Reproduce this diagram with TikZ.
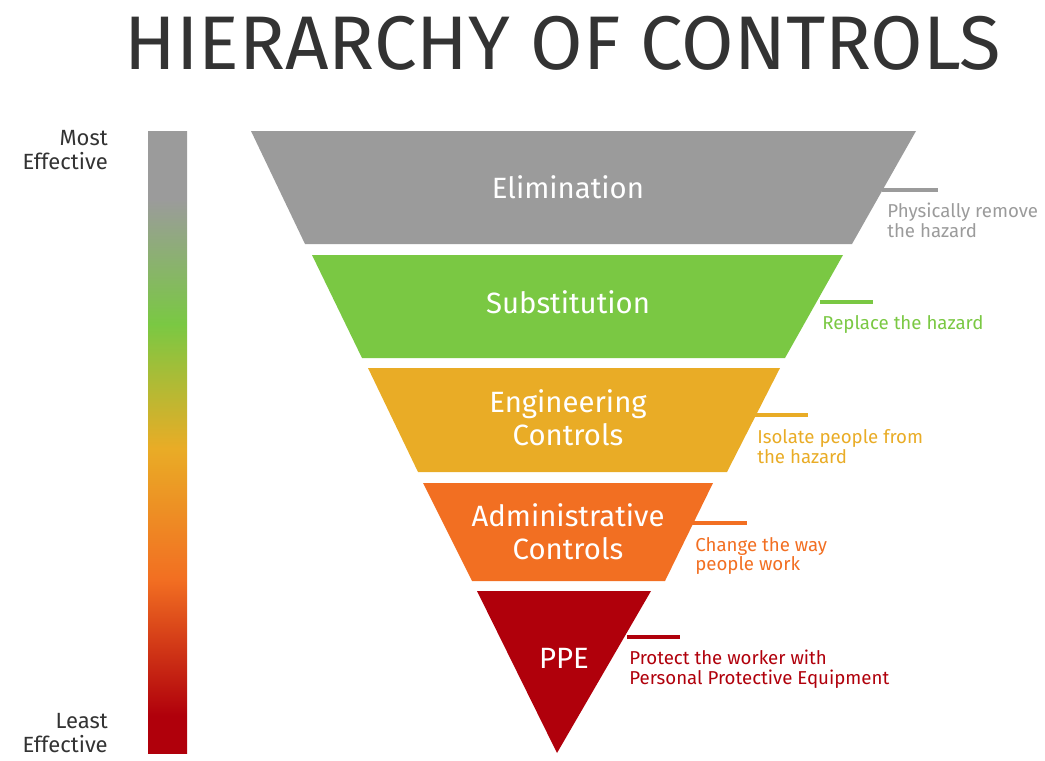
\documentclass[tikz,border=0pt]{standalone}
\usepackage{fontspec}
\setmainfont{Fira Sans}
\usetikzlibrary{positioning}
\definecolor{elim}{RGB}{155,155,155}
\definecolor{subst}{RGB}{122,200,67}
\definecolor{engin}{RGB}{233,172,38}
\definecolor{admin}{RGB}{242,111,34}
\definecolor{ppe}{RGB}{176,0,11}
\definecolor{ink}{RGB}{51,51,51}
\pgfdeclareverticalshading{effect}{100bp}{color(0bp)=(ppe); color(28bp)=(ppe); color(39bp)=(admin); color(49.5bp)=(engin); color(59.5bp)=(subst); color(69.5bp)=(elim); color(100bp)=(elim)}
\tikzset{
  level/.style={font=\fontsize{22}{25}\selectfont, text=white, align=center},
  note/.style={font=\fontsize{14}{14.8}\selectfont, align=left, anchor=north west, inner sep=0pt},
  side/.style={font=\fontsize{16.5}{18}\selectfont, text=ink, align=right, anchor=north east, inner sep=0pt},
  tick/.style={line width=3pt},
}

\begin{document}
\begin{tikzpicture}[x=0.75pt,y=-0.75pt]
    \useasboundingbox (0,0) rectangle (1045,760);
    \node[font=\fontsize{57}{60}\selectfont,text=ink] (title) at (563,43) {HIERARCHY OF CONTROLS};
    % effectiveness bar
    \shade[shading=effect] (148,131) rectangle (187,753);
    \node[side] (most) at (108,130) {Most\\Effective};
    \node[side] (least) at (108,713) {Least\\Effective};
    % the five levels
    \fill[elim] (251,131) -- (916,131) -- (852,244) -- (305,244) -- cycle;
    \fill[subst] (312,255) -- (843,255) -- (785,358) -- (362,358) -- cycle;
    \fill[engin] (368,368) -- (780,368) -- (727,472) -- (418,472) -- cycle;
    \fill[admin] (423,483) -- (713,483) -- (665,581) -- (472,581) -- cycle;
    \fill[ppe] (477,591) -- (651,591) -- (557,753) -- cycle;
    \node[level] (elimination) at (568,187) {Elimination};
    \node[level] (substitution) at (568,302) {Substitution};
    \node[level] (engineering) at (568,418) {Engineering\\Controls};
    \node[level] (administrative) at (568,532) {Administrative\\Controls};
    \node[level] (protective) at (564,658) {PPE};
    % notes
    \coordinate (elim-a) at (882,190);  \coordinate (elim-b) at (938,190);
    \coordinate (subst-a) at (820,302); \coordinate (subst-b) at (873,302);
    \coordinate (engin-a) at (755,415); \coordinate (engin-b) at (808,415);
    \coordinate (admin-a) at (692,523); \coordinate (admin-b) at (747,523);
    \coordinate (ppe-a) at (627,637);   \coordinate (ppe-b) at (680,637);
    \draw[tick,elim] (elim-a) -- (elim-b);
    \draw[tick,subst] (subst-a) -- (subst-b);
    \draw[tick,engin] (engin-a) -- (engin-b);
    \draw[tick,admin] (admin-a) -- (admin-b);
    \draw[tick,ppe] (ppe-a) -- (ppe-b);
    \node[note,text=elim] (elim-note) at (887,203) {Physically remove\\the hazard};
    \node[note,text=subst] (subst-note) at (822,315) {Replace the hazard};
    \node[note,text=engin] (engin-note) at (757,429) {Isolate people from\\the hazard};
    \node[note,text=admin] (admin-note) at (695,537) {Change the way\\people work};
    \node[note,text=ppe] (ppe-note) at (629,650) {Protect the worker with\\Personal Protective Equipment};
\end{tikzpicture}
\end{document}
